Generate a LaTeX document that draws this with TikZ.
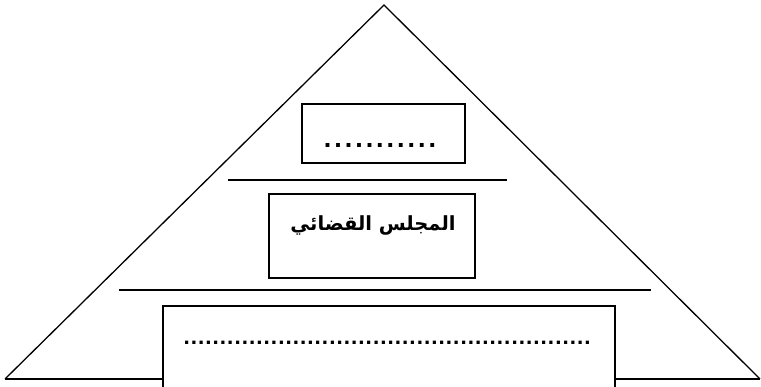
\documentclass[tikz,border=0pt]{standalone}
\usepackage{fontspec}
\setmainfont{Liberation Sans}
\newfontfamily\arabicfont[Script=Arabic]{DejaVu Sans}
\TeXXeTstate=1

\begin{document}
\begin{tikzpicture}[x=1pt,y=-1pt,
  frame/.style={draw,line width=2pt,fill=white,inner sep=0pt},
  rule/.style={line width=2pt},
  dotrow/.style={inner sep=0pt,font=\bfseries\fontsize{#1}{#1}\selectfont}]
\useasboundingbox (0,0) rectangle (761,387);
% pyramid outline
\coordinate (apex) at (384,5);
\coordinate (baseL) at (5,379);
\coordinate (baseR) at (760,379);
\draw[line width=1.3pt] (baseL) -- (apex) -- (baseR);
\draw[rule] (baseL) -- (baseR);
% separating lines
\coordinate (upperL) at (228,180);
\coordinate (upperR) at (507,180);
\coordinate (lowerL) at (119,290);
\coordinate (lowerR) at (651,290);
\draw[rule] (upperL) -- (upperR);
\draw[rule] (lowerL) -- (lowerR);
% levels
\node[frame,minimum width=163pt,minimum height=59pt] (topbox) at (383.5,133.5) {};
\node[frame,minimum width=206pt,minimum height=84pt] (midbox) at (372,236) {};
\node[frame,minimum width=452pt,minimum height=90pt] (lowbox) at (389,351) {};
\node[dotrow=27] (topdots) at (380,145) {\addfontfeature{LetterSpace=11}...........};
\node[inner sep=0pt,font=\arabicfont\bfseries\fontsize{19.5}{19.5}\selectfont] (council) at (373,225) {\beginR المجلس القضائي\endR};
\node[dotrow=22.5] (lowdots) at (387,343) {\addfontfeature{LetterSpace=4.6}........................................................};
\end{tikzpicture}
\end{document}
